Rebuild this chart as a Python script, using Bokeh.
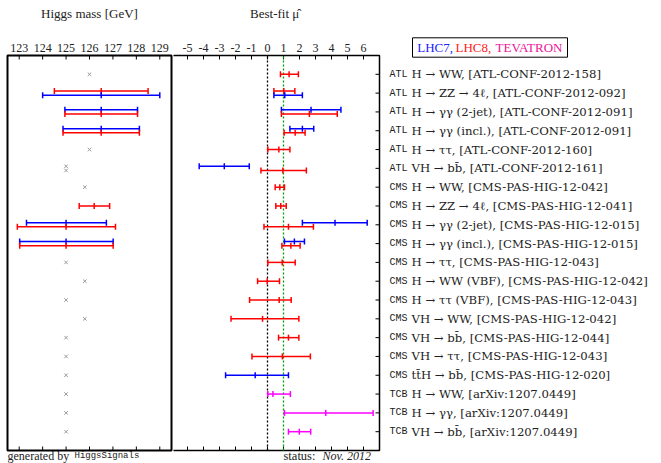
import numpy as np
from bokeh.plotting import figure
from bokeh.layouts import row
from bokeh.models import Range1d
from bokeh.embed import file_html
from bokeh.resources import INLINE
from bokeh.core.properties import value

# ---------------- data ----------------
experiments = ["ATL"] * 6 + ["CMS"] * 11 + ["TCB"] * 3
channels = [
    "H → WW, [ATL-CONF-2012-158]",
    "H → ZZ → 4ℓ, [ATL-CONF-2012-092]",
    "H → γγ (2-jet), [ATL-CONF-2012-091]",
    "H → γγ (incl.), [ATL-CONF-2012-091]",
    "H → ττ, [ATL-CONF-2012-160]",
    "VH → bb̄, [ATL-CONF-2012-161]",
    "H → WW, [CMS-PAS-HIG-12-042]",
    "H → ZZ → 4ℓ, [CMS-PAS-HIG-12-041]",
    "H → γγ (2-jet), [CMS-PAS-HIG-12-015]",
    "H → γγ (incl.), [CMS-PAS-HIG-12-015]",
    "H → ττ, [CMS-PAS-HIG-12-043]",
    "H → WW (VBF), [CMS-PAS-HIG-12-042]",
    "H → ττ (VBF), [CMS-PAS-HIG-12-043]",
    "VH → WW, [CMS-PAS-HIG-12-042]",
    "VH → bb̄, [CMS-PAS-HIG-12-044]",
    "VH → ττ, [CMS-PAS-HIG-12-043]",
    "tt̄H → bb̄, [CMS-PAS-HIG-12-020]",
    "H → WW, [arXiv:1207.0449]",
    "H → γγ, [arXiv:1207.0449]",
    "VH → bb̄, [arXiv:1207.0449]",
]

# one entry per measurement (row number counted from the top)
meas_row = [1, 2, 2, 3, 3, 4, 4, 5, 6, 6, 7, 8, 9, 9, 10, 10, 11, 12, 13, 14, 15, 16, 17, 18, 19, 20]
meas_set = ["LHC8", "LHC8", "LHC7", "LHC7", "LHC8", "LHC7", "LHC8", "LHC8", "LHC7", "LHC8",
            "LHC8", "LHC8", "LHC7", "LHC8", "LHC7", "LHC8", "LHC8", "LHC8", "LHC8", "LHC8",
            "LHC8", "LHC8", "LHC7", "TEV", "TEV", "TEV"]
mu_best = [1.35, 1.02, 1.08, 2.72, 2.62, 2.18, 1.73, 0.71, -2.70, 0.96,
           0.77, 0.83, 4.22, 1.31, 1.68, 1.46, 0.92, -0.02, 0.73, -0.31,
           1.31, 0.93, -0.77, 0.34, 3.64, 1.99]
mu_low = [0.81, 0.40, 0.40, 0.87, 0.87, 1.40, 1.04, 0.02, -4.27, -0.41,
          0.48, 0.52, 2.18, -0.22, 1.06, 0.90, 0.02, -0.62, -1.12, -2.28,
          0.69, -0.97, -2.62, 0.02, 1.06, 1.31]
mu_high = [1.93, 1.71, 2.18, 4.59, 4.36, 2.89, 2.35, 1.40, -1.14, 2.43,
           1.06, 1.17, 6.23, 2.87, 2.31, 2.04, 1.73, 0.75, 1.48, 1.96,
           1.96, 2.68, 1.31, 1.43, 6.60, 2.70]
mass = [126.0, 126.5, 126.5, 126.5, 126.5, 126.5, 126.5, 126.0, 125.0, 125.0,
        125.8, 126.2, 125.0, 125.0, 125.0, 125.0, 125.0, 125.8, 125.0, 125.8,
        125.0, 125.0, 125.0, 125.0, 125.0, 125.0]
nan = float("nan")
mass_low = [nan, 124.5, 124.0, 124.95, 124.95, 124.87, 124.87, nan, nan, nan,
            nan, 125.56, 123.31, 122.92, 123.02, 123.02, nan, nan, nan, nan,
            nan, nan, nan, nan, nan, nan]
mass_high = [nan, 128.5, 129.0, 128.05, 128.05, 128.13, 128.13, nan, nan, nan,
             nan, 126.86, 126.72, 127.11, 127.01, 127.01, nan, nan, nan, nan,
             nan, nan, nan, nan, nan, nan]

mass_ticks = [123, 124, 125, 126, 127, 128, 129]
mu_ticks = [-5, -4, -3, -2, -1, 0, 1, 2, 3, 4, 5, 6]
mu_ref_lines = [0, 1]
mu_ref_colors = ["black", "#00a000"]

legend_words = ["LHC7,", "LHC8,", "TEVATRON"]
legend_colors = ["#2020ff", "#ff2020", "#ee1199"]
set_colors = {"LHC7": "#0000ff", "LHC8": "#ff0000", "TEV": "#ff00ff"}

# ---------------- geometry helpers (pixels -> data units) ----------------
W, H = 661, 463
TOP, BOTTOM = 55, 13           # panel box top / bottom margins in px
n_rows = len(channels)
Y_MAX = n_rows + 1             # panel box spans y = 0 .. Y_MAX
unit = (H - TOP - BOTTOM) / Y_MAX
Y_TOP = Y_MAX + TOP / unit
Y_BOT = -BOTTOM / unit
TICK = 4 / unit
FOOT_Y = -5.5 / unit

MASS_LO, MASS_HI = 122.5, 129.5
MU_LO, MU_HI = -6.0, 7.0
A_LEFT, A_BOX = 7, 164         # mass panel: box from px 7, 164 px wide
B_BOX = 208                    # mu panel box width in px
ppg = A_BOX / (MASS_HI - MASS_LO)
ppm = B_BOX / (MU_HI - MU_LO)
A_W = A_LEFT + A_BOX + 2
B_W = B_BOX + 2
C_W = W - A_W - B_W

row_y = [Y_MAX - r for r in range(1, n_rows + 1)]
counts = {}
for r in meas_row:
    counts[r] = counts.get(r, 0) + 1
seen = {}
ys = []
for r in meas_row:
    k = seen.get(r, 0)
    seen[r] = k + 1
    off = 0.0 if counts[r] == 1 else (0.11 if k == 0 else -0.11)
    ys.append(Y_MAX - r + off)
colors = [set_colors[s] for s in meas_set]
has_mass = [not np.isnan(v) for v in mass_low]
sel = [i for i in range(len(ys)) if has_mass[i]]
nsel = [i for i in range(len(ys)) if not has_mass[i]]

SERIF = "Liberation Serif"
LSERIF = "DejaVu Serif"
MONO = "Liberation Mono"
INK = "#222222"


def base_fig(width, x_range):
    p = figure(width=width, height=H, x_range=x_range, y_range=Range1d(Y_BOT, Y_TOP),
               output_backend="svg", toolbar_location=None, x_axis_location=None,
               y_axis_location=None, min_border=0)
    p.xgrid.grid_line_color = None
    p.ygrid.grid_line_color = None
    p.outline_line_color = None
    p.background_fill_color = "white"
    p.border_fill_color = "white"
    return p


def draw_scale(p, ticks, title, title_x):
    # ticks pointing inwards at top and bottom of the panel box
    p.segment(x0=ticks, y0=[Y_MAX] * len(ticks), x1=ticks, y1=[Y_MAX - TICK] * len(ticks),
              line_color="black", line_width=1)
    p.segment(x0=ticks, y0=[0] * len(ticks), x1=ticks, y1=[TICK] * len(ticks),
              line_color="black", line_width=1)
    p.text(x=ticks, y=[Y_MAX + 7.5 / unit] * len(ticks), text=[str(t) for t in ticks],
           text_font=value(SERIF), text_font_size="12px", text_align="center",
           text_baseline="middle", text_color=INK)
    p.text(x=[title_x], y=[Y_MAX + 42 / unit], text=[title], text_font=value(SERIF),
           text_font_size="13px", text_align="center", text_baseline="middle",
           text_color=INK)


def draw_errorbars(p, x, lo, hi, y, color):
    p.segment(x0=lo, y0=y, x1=hi, y1=y, line_color=color, line_width=1.5)
    for col in (lo, x, hi):
        p.scatter(x=col, y=y, marker="dash", angle=np.pi / 2, size=6,
                  line_color=color, line_width=1.5)


# ---------------- mass panel ----------------
pA = base_fig(A_W, Range1d(MASS_LO - A_LEFT / ppg, MASS_HI + 2 / ppg))
pA.quad(left=[MASS_LO], right=[MASS_HI], bottom=[0], top=[Y_MAX], fill_color=None,
        line_color="black", line_width=2)
draw_scale(pA, mass_ticks, "Higgs mass [GeV]", (MASS_LO + MASS_HI) / 2)
pA.scatter(x=[mass[i] for i in nsel], y=[ys[i] for i in nsel], marker="x", size=5,
           line_color="#9a9a9a", line_width=1)
draw_errorbars(pA, [mass[i] for i in sel], [mass_low[i] for i in sel],
               [mass_high[i] for i in sel], [ys[i] for i in sel], [colors[i] for i in sel])
pA.text(x=[MASS_LO], y=[FOOT_Y], text=["generated by"], text_font=value(SERIF),
        text_font_size="12px", text_baseline="middle", text_color=INK)
pA.text(x=[MASS_LO + 67 / ppg], y=[FOOT_Y], text=["HiggsSignals"], text_font=value(MONO),
        text_font_size="9px", text_baseline="middle", text_color=INK)

# ---------------- signal strength panel ----------------
pB = base_fig(B_W, Range1d(MU_LO + 2 / ppm, MU_HI + 4 / ppm))
pB.quad(left=[MU_LO], right=[MU_HI], bottom=[0], top=[Y_MAX], fill_color=None,
        line_color="black", line_width=1.5)
draw_scale(pB, mu_ticks, "Best-fit \u03bc\u0302", (MU_LO + MU_HI) / 2 - 0.05)
pB.segment(x0=[MU_HI] * n_rows, y0=row_y, x1=[MU_HI - 4 / ppm] * n_rows, y1=row_y,
           line_color="black", line_width=1)
pB.segment(x0=mu_ref_lines, y0=[0, 0], x1=mu_ref_lines, y1=[Y_MAX, Y_MAX],
           line_color=mu_ref_colors, line_dash="2 2", line_width=1.3)
draw_errorbars(pB, mu_best, mu_low, mu_high, ys, colors)
pB.text(x=[MU_LO + 112 / ppm], y=[FOOT_Y], text=["status:"], text_font=value(SERIF),
        text_font_size="12.5px", text_baseline="middle", text_color=INK)
pB.text(x=[MU_LO + 151 / ppm], y=[FOOT_Y], text=["Nov. 2012"], text_font=value(SERIF),
        text_font_size="12px", text_font_style="italic", text_baseline="middle",
        text_color=INK)

# ---------------- labels panel ----------------
pC = base_fig(C_W, Range1d(0, C_W))
pC.text(x=6, y=row_y, text=experiments, text_font=value(MONO), text_font_size="10px",
        text_baseline="middle", text_color=INK)
pC.text(x=28, y=row_y, text=channels, text_font=value(LSERIF), text_font_size="11.7px",
        text_baseline="middle", text_color=INK)
pC.quad(left=[29], right=[184], top=[Y_MAX + (TOP - 37.3) / unit],
        bottom=[Y_MAX + (TOP - 56.7) / unit], fill_color=None, line_color="black",
        line_width=1)
pC.text(x=[33.7, 72, 112], y=[Y_MAX + (TOP - 46.7) / unit] * 3, text=legend_words,
        text_color=legend_colors, text_font=value(SERIF), text_font_size="13px",
        text_baseline="middle")

layout = row(pA, pB, pC, spacing=0)
open("out.html", "w").write(file_html(layout, INLINE))
